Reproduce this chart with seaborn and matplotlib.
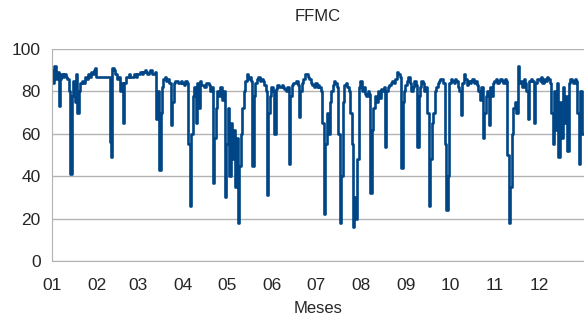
import numpy as np
import pandas as pd
import matplotlib
matplotlib.use('Agg')
import matplotlib.pyplot as plt
import seaborn as sns

# daily FFMC values, one list per month
jan = [90, 84, 92, 86, 89, 73, 86, 88, 87, 88, 87, 86, 80, 41, 78,
       85, 75, 88, 70, 80, 84, 85, 84, 87, 86, 88, 87, 89, 88, 90, 91]
feb = [87, 87, 87, 87, 87, 87, 87, 87, 87, 56, 49, 91, 90, 88, 86, 87,
       80, 84, 65, 84, 87, 87, 88, 87, 87, 87, 88, 87]
mar = [88, 88, 89, 88, 89, 90, 89, 88, 89, 90, 88, 88, 89, 67, 80, 43,
       70, 82, 86, 87, 85, 86, 84, 64, 75, 84, 85, 85, 84, 84, 85]
apr = [84, 83, 85, 84, 55, 26, 60, 78, 82, 65, 84, 72, 85, 83, 83, 82,
       84, 84, 83, 80, 82, 37, 58, 72, 80, 78, 82, 76, 80, 30]
may = [55, 72, 40, 65, 48, 62, 35, 58, 18, 45, 60, 72, 80, 85, 88, 86,
       87, 85, 45, 78, 84, 86, 87, 85, 86, 85, 83, 80, 31, 70, 78]
jun = [82, 80, 60, 81, 83, 82, 82, 83, 82, 81, 80, 82, 46, 78, 83, 84,
       84, 85, 83, 68, 80, 84, 86, 88, 88, 87, 86, 84, 83, 82]
jul = [84, 82, 83, 82, 80, 65, 22, 55, 70, 60, 75, 80, 83, 85, 84, 82,
       60, 18, 40, 75, 83, 84, 82, 80, 70, 55, 16, 30, 20, 48, 82]
aug = [85, 80, 82, 79, 78, 80, 79, 32, 62, 72, 78, 75, 80, 77, 81, 80,
       82, 54, 80, 82, 83, 84, 85, 84, 86, 89, 88, 87, 44, 75, 80]
sep = [83, 85, 87, 84, 80, 82, 85, 83, 54, 78, 82, 85, 84, 80, 82, 70,
       26, 48, 65, 70, 80, 82, 84, 85, 86, 86, 84, 55, 24, 40]
oct_ = [84, 86, 85, 84, 86, 85, 82, 80, 69, 84, 88, 86, 83, 85, 84, 85,
        86, 84, 85, 83, 80, 76, 82, 58, 70, 78, 80, 64, 82, 78, 84]
nov = [85, 86, 84, 85, 86, 85, 84, 86, 85, 50, 18, 35, 60, 72, 75, 70,
       92, 84, 85, 82, 86, 84, 80, 67, 85, 86, 85, 65, 84, 86]
dec = [86, 85, 87, 84, 86, 85, 87, 86, 84, 70, 55, 80, 62, 84, 49, 75,
       58, 82, 65, 78, 52, 84, 86, 85, 84, 86, 85, 70, 46, 80, 60]

month_labels = ['01', '02', '03', '04', '05', '06', '07', '08', '09', '10', '11', '12']

months = [jan, feb, mar, apr, may, jun, jul, aug, sep, oct_, nov, dec]
ffmc = sum(months, [])
df = pd.DataFrame({'dia': np.arange(len(ffmc)), 'FFMC': ffmc})
month_starts = np.cumsum([0] + [len(m) for m in months[:-1]])

sns.set_style('white')
plt.rcParams['font.family'] = ['Liberation Sans', 'DejaVu Sans']

fig = plt.figure(figsize=(5.84, 3.18), dpi=100)
ax = fig.add_axes([0.089, 0.179, 0.911, 0.667])
sns.lineplot(data=df, x='dia', y='FFMC', ax=ax, color='#004586',
             linewidth=1.9, drawstyle='steps-mid')

ax.set_xlim(0, 365)
ax.set_ylim(0, 100)
ax.set_yticks(range(0, 101, 20))
ax.set_xticks(month_starts)
ax.set_xticklabels(month_labels)
ax.yaxis.grid(True, color='#b3b3b3', linewidth=1)
ax.set_axisbelow(True)
for s in ['top', 'right']:
    ax.spines[s].set_visible(False)
for s in ['left', 'bottom']:
    ax.spines[s].set_color('#b3b3b3')
ax.tick_params(axis='both', length=5, color='#b3b3b3', labelsize=12.5)
ax.tick_params(axis='x', pad=7)
ax.tick_params(axis='y', pad=3)
ax.set_title('FFMC', fontsize=12, pad=20)
ax.set_xlabel('Meses', fontsize=12, labelpad=6)
ax.set_ylabel('')

fig.savefig('out.png', dpi=100)
